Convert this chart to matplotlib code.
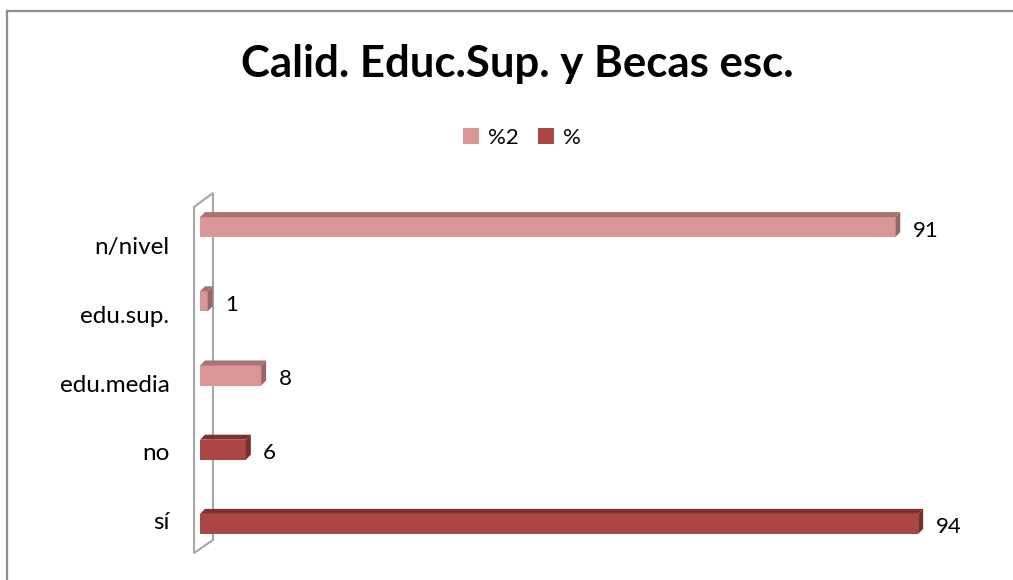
import numpy as np
import matplotlib
matplotlib.use("Agg")
import matplotlib.pyplot as plt
from matplotlib.patches import Polygon, Patch
from matplotlib.lines import Line2D

categories = ['sí', 'no', 'edu.media', 'edu.sup.', 'n/nivel']
series_pct = [94, 6, np.nan, np.nan, np.nan]      # "%"
series_pct2 = [np.nan, np.nan, 8, 1, 91]          # "%2"
title = 'Calid. Educ.Sup. y Becas esc.'

W, H = 1013, 580
fig = plt.figure(figsize=(W / 100, H / 100), dpi=100)
plt.rcParams['font.family'] = ['Lato', 'DejaVu Sans']

def fx(px):
    return px / W

def fy(py):
    return 1 - py / H

# chart area border (top and left visible)
fig.add_artist(Line2D([fx(7), fx(7)], [fy(11), 0], transform=fig.transFigure,
                      color='#8E8E8E', lw=1.6))
fig.add_artist(Line2D([fx(7), 1.01], [fy(11), fy(11)], transform=fig.transFigure,
                      color='#8E8E8E', lw=1.6))

# back wall (3D look)
wall = Polygon([(fx(194), fy(207)), (fx(213), fy(193)), (fx(213), fy(540)), (fx(194), fy(553))],
               closed=True, transform=fig.transFigure, facecolor='white',
               edgecolor='#A6A6A6', lw=1.5, zorder=0)
fig.add_artist(wall)

# main axes for bars
ax = fig.add_axes([fx(200), fy(561), 764 / W, (561 - 190) / H])
ax.set_xlim(0, 100)
ax.set_ylim(-0.5, 4.5)
ax.axis('off')
ax.patch.set_alpha(0)

ypos = np.arange(len(categories))
bh = 0.27
dx = 5 / 7.64
dy = 5 / 74.2

styles = {
    '%': dict(front='#AA4643', top='#7E3130', side='#7A2F2D'),
    '%2': dict(front='#D99694', top='#A87472', side='#9A6563'),
}

def draw_series(vals, key):
    st = styles[key]
    for y, v in zip(ypos, vals):
        if np.isnan(v):
            continue
        ax.barh(y, v, height=bh, color=st['front'], zorder=3, clip_on=False)
        top = Polygon([(0, y + bh / 2), (dx, y + bh / 2 + dy), (v + dx, y + bh / 2 + dy), (v, y + bh / 2)],
                      closed=True, facecolor=st['top'], edgecolor='none', zorder=3, clip_on=False)
        side = Polygon([(v, y - bh / 2), (v, y + bh / 2), (v + dx, y + bh / 2 + dy), (v + dx, y - bh / 2 + dy)],
                       closed=True, facecolor=st['side'], edgecolor='none', zorder=3, clip_on=False)
        ax.add_patch(top)
        ax.add_patch(side)
        ax.annotate(f'{v:g}', xy=(v, y), xytext=(12.5, -2.5), textcoords='offset points',
                    ha='left', va='center', fontsize=16, color='black')

draw_series(series_pct, '%')
draw_series(series_pct2, '%2')

# label axes (category labels sit on the projected floor positions)
axl = fig.add_axes([fx(200), fy(555), 764 / W, (555 - 211) / H])
axl.set_ylim(-0.5, 4.5)
axl.set_xlim(0, 1)
axl.patch.set_alpha(0)
for s in axl.spines.values():
    s.set_visible(False)
axl.set_xticks([])
axl.set_yticks(ypos)
axl.set_yticklabels(categories, fontsize=17.5)
axl.tick_params(axis='y', length=0, pad=22)
axl.set_zorder(-1)

fig.text(fx(517), fy(77), title, ha='center', va='baseline', fontsize=31.5, fontweight='bold')

handles = [Patch(facecolor=styles['%2']['front']), Patch(facecolor=styles['%']['front'])]
fig.legend(handles, ['%2', '%'], loc='center', bbox_to_anchor=(fx(522), fy(138)), ncol=2,
           frameon=False, fontsize=16, handlelength=0.7, handleheight=0.7,
           handletextpad=0.4, columnspacing=0.9)

fig.savefig('out.png', dpi=100)
